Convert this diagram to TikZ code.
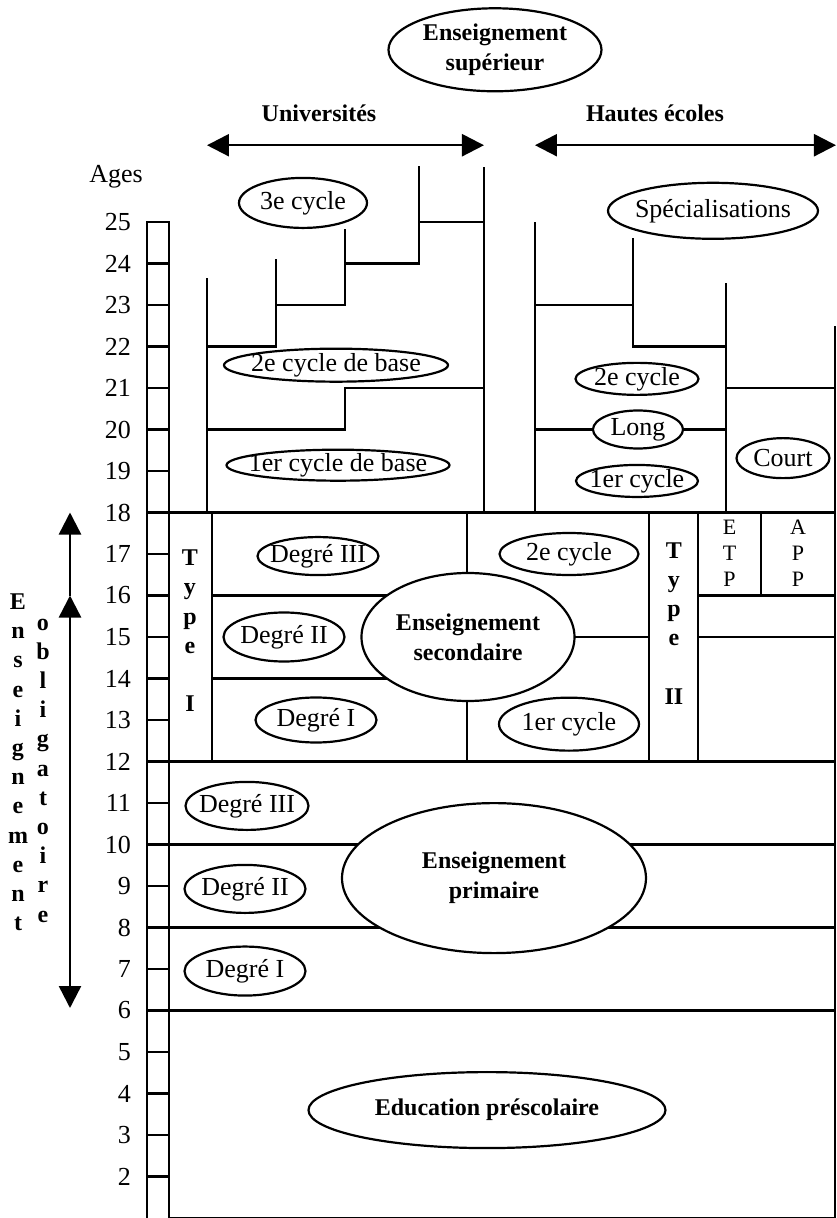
\documentclass[tikz,border=0pt]{standalone}
\usepackage{fontspec}
\setmainfont{Liberation Serif}
\usetikzlibrary{shapes.geometric,arrows.meta}

\begin{document}
\begin{tikzpicture}[x=1pt, y=41.5pt,
    line width=2.4pt,
    >={Triangle[length=22pt,width=22pt]},
    oval/.style={draw, ellipse, fill=white, line width=2.2pt, inner sep=-14pt,
        font=\fontsize{26}{30}\selectfont},
    boldoval/.style={oval, align=center, font=\fontsize{24}{30}\selectfont\bfseries},
    agelabel/.style={anchor=east, inner sep=0pt, font=\fontsize{26}{30}\selectfont},
    heading/.style={inner sep=0pt, font=\fontsize{24}{30}\selectfont\bfseries},
    vtext/.style={align=center, inner sep=0pt, font=\fontsize{24}{29.2}\selectfont\bfseries},
    letters/.style={align=center, inner sep=0pt, font=\fontsize{22}{26}\selectfont}]

    \useasboundingbox (0,1) rectangle (837,30.35);

    % Age ruler
    \draw (147,1) -- (147,25) -- (169,25) -- (169,1);
    \node[agelabel, anchor=center] (ages) at (116,26.08) {Ages};
    \foreach \a in {2,...,25} {
        \draw (147,\a) -- (169,\a);
        \node[agelabel] (age\a) at (132,\a) {\a};
    }

    % Frame and main levels
    \draw (169,1) -- (835,1) -- (835,22.49);
    \draw (147,18) -- (835,18);
    \draw (147,12) -- (835,12);
    \draw (147,10) -- (835,10);
    \draw (147,8) -- (835,8);
    \draw (147,6) -- (835,6);

    % Universities: steps
    \draw (207,18) -- (207,23.65);
    \draw (207,22) -- (276,22) -- (276,24.11);
    \draw (276,23) -- (345,23) -- (345,24.83);
    \draw (345,24) -- (419,24) -- (419,26.35);
    \draw (419,25) -- (484,25);
    \draw (484,18) -- (484,26.33);
    \draw (207,20) -- (345,20) -- (345,21) -- (484,21);

    % Hautes ecoles
    \draw (535,18) -- (535,25);
    \draw (535,23) -- (633,23);
    \draw (633,24.61) -- (633,22) -- (726,22);
    \draw (726,18) -- (726,23.53);
    \draw (726,21) -- (835,21);
    \draw (535,20) -- (726,20);

    % Secondary: columns
    \draw (212,18) -- (212,12);
    \draw (212,16) -- (467,16);
    \draw (212,14) -- (467,14);
    \draw (467,18) -- (467,12);
    \draw (467,15) -- (649,15);
    \draw (649,18) -- (649,12);
    \draw (698,18) -- (698,12);
    \draw (761,18) -- (761,16);
    \draw (698,16) -- (835,16);
    \draw (698,15) -- (835,15);

    % Higher education
    \node[boldoval, minimum width=213pt, minimum height=83pt] (sup) at (495,29.15) {Enseignement\\supérieur};
    \node[heading] (univ) at (319,27.63) {Universités};
    \node[heading] (hautes) at (655,27.63) {Hautes écoles};
    \coordinate (univL) at (207,26.85);
    \coordinate (univR) at (484,26.85);
    \coordinate (heL) at (535,26.85);
    \coordinate (heR) at (836,26.85);
    \draw[<->] (univL) -- (univR);
    \draw[<->] (heL) -- (heR);

    \node[oval, minimum width=128pt, minimum height=50pt] (cyc3) at (303,25.46) {3e cycle};
    \node[oval, minimum width=224pt, minimum height=33pt] (cyc2) at (336,21.55) {2e cycle de base};
    \node[oval, minimum width=223pt, minimum height=31pt] (cyc1) at (338,19.14) {1er cycle de base};
    \node[oval, minimum width=210pt, minimum height=56pt] (spec) at (713,25.27) {Spécialisations};
    \node[oval, minimum width=123pt, minimum height=32pt] (he2) at (637,21.22) {2e cycle};
    \node[oval, minimum width=90pt, minimum height=38pt] (long) at (638,20) {Long};
    \node[oval, minimum width=122pt, minimum height=32pt] (he1) at (637,18.76) {1er cycle};
    \node[oval, minimum width=93pt, minimum height=40pt] (court) at (783,19.31) {Court};

    % Secondary
    \node[boldoval, minimum width=213pt, minimum height=128pt] (sec) at (468,15) {Enseignement\\secondaire};
    \node[oval, minimum width=121pt, minimum height=38pt] (sdeg3) at (318,16.95) {Degré III};
    \node[oval, minimum width=139pt, minimum height=42pt] (s2cyc) at (569,17) {2e cycle};
    \node[oval, minimum width=121pt, minimum height=49pt] (sdeg2) at (284,15) {Degré II};
    \node[oval, minimum width=121pt, minimum height=45pt] (sdeg1) at (316,13) {Degré I};
    \node[oval, minimum width=140pt, minimum height=53pt] (s1cyc) at (569,12.9) {1er cycle};
    \node[vtext] (typeI) at (190,15.15) {T\\y\\p\\e\\[29.2pt]I};
    \node[vtext] (typeII) at (674,15.33) {T\\y\\p\\e\\[29.2pt]II};
    \node[letters] (etp) at (729.5,17.02) {E\\T\\P};
    \node[letters] (app) at (798,17.02) {A\\P\\P};

    % Primary and preschool
    \node[boldoval, minimum width=304pt, minimum height=150pt] (prim) at (494,9.19) {Enseignement\\primaire};
    \node[oval, minimum width=123pt, minimum height=48pt] (pdeg3) at (247,10.93) {Degré III};
    \node[oval, minimum width=121pt, minimum height=48pt] (pdeg2) at (245,8.93) {Degré II};
    \node[oval, minimum width=121pt, minimum height=49pt] (pdeg1) at (245,6.95) {Degré I};
    \node[boldoval, minimum width=357pt, minimum height=76pt] (presc) at (487,3.6) {Education préscolaire};

    % Compulsory schooling
    \node[vtext] (enseign) at (18,11.98) {E\\n\\s\\e\\i\\g\\n\\e\\m\\e\\n\\t};
    \node[vtext] (oblig) at (43,11.78) {o\\b\\l\\i\\g\\a\\t\\o\\i\\r\\e};
    \coordinate (obl6) at (70,6.06);
    \coordinate (obl16) at (70,16);
    \coordinate (obl18) at (70,18);
    \draw[<->] (obl6) -- (obl16);
    \draw[->] (obl16) -- (obl18);
\end{tikzpicture}
\end{document}
